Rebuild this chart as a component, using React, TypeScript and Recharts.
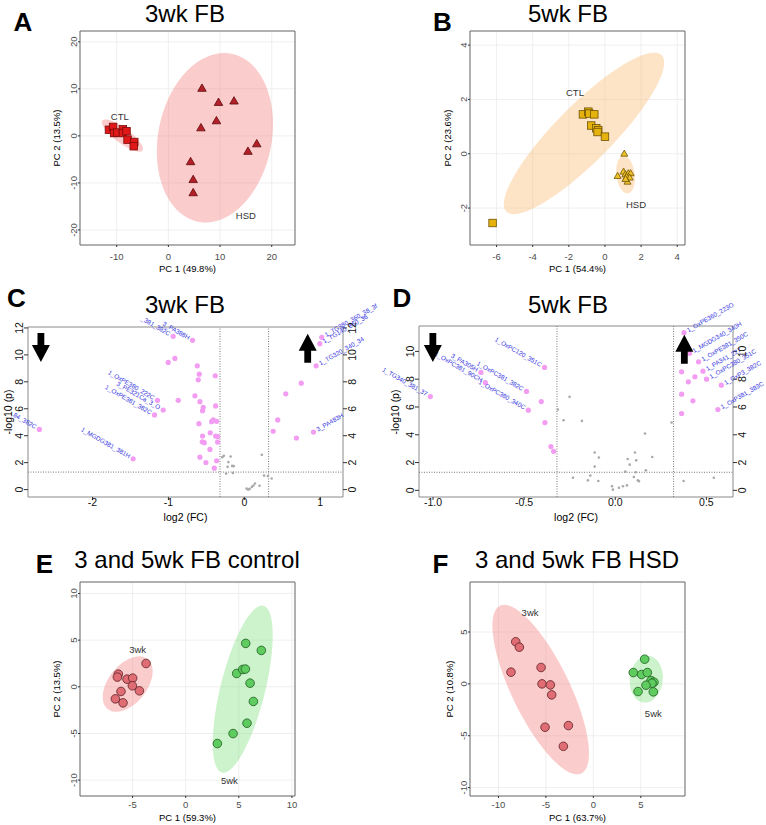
import React from 'react';
import { ScatterChart, Scatter, XAxis, YAxis, CartesianGrid, ReferenceArea, ReferenceLine } from 'recharts';

const FONT = 'Arial, "Liberation Sans", Helvetica, sans-serif';

type P = { x: number; y: number };
type Ell = { cx: number; cy: number; ux: number; uy: number; vx: number; vy: number };
type Lab = { x: number; y: number; t: string };

// ---- A: 3wk FB PCA ----
const aCtl: P[] = [
  { x: -11.5, y: 1.3 }, { x: -10.7, y: 1.9 }, { x: -10.5, y: 0.6 }, { x: -9.9, y: 0.7 }, { x: -8.8, y: 1.4 },
  { x: -8.8, y: 0.6 }, { x: -8.1, y: 1.0 }, { x: -7.9, y: -0.8 }, { x: -6.6, y: -1.3 }, { x: -6.7, y: -2.2 },
];
const aHsd: P[] = [
  { x: 6.5, y: 10.1 }, { x: 9.7, y: 7.1 }, { x: 12.7, y: 7.4 }, { x: 9.3, y: 3.2 }, { x: 6.3, y: 1.7 },
  { x: 17.1, y: -1.7 }, { x: 15.4, y: -3.3 }, { x: 4.3, y: -5.5 }, { x: 4.8, y: -9.3 }, { x: 4.8, y: -12.1 },
];
const aEllipses: Ell[] = [
  { cx: -8.9, cy: 0.07, ux: -3.87, uy: 3.19, vx: 0.87, vy: 1.28 },
  { cx: 9.0, cy: -0.4, ux: 3.23, uy: 17.87, vx: 10.77, vy: -2.34 },
];
const aLabels: Lab[] = [{ x: -9.4, y: 4.0, t: 'CTL' }, { x: 15.0, y: -17.0, t: 'HSD' }];
const aXTicks = [-10, 0, 10, 20];
const aYTicks = [-20, -10, 0, 10, 20];

// ---- B: 5wk FB PCA ----
const bCtl: P[] = [
  { x: -1.22, y: 1.45 }, { x: -0.92, y: 1.55 }, { x: -0.87, y: 1.48 }, { x: -0.59, y: 1.45 }, { x: -0.76, y: 1.04 },
  { x: -0.48, y: 0.94 }, { x: -0.37, y: 0.87 }, { x: -0.41, y: 0.8 }, { x: 0.0, y: 0.63 }, { x: -6.22, y: -2.55 },
];
const bHsd: P[] = [
  { x: 1.07, y: 0.0 }, { x: 0.7, y: -0.82 }, { x: 1.03, y: -0.66 }, { x: 1.13, y: -0.76 }, { x: 1.29, y: -0.72 },
  { x: 1.42, y: -0.72 }, { x: 1.2, y: -0.85 }, { x: 1.37, y: -0.88 }, { x: 1.25, y: -1.03 }, { x: 1.14, y: -0.93 },
];
const bEllipses: Ell[] = [
  { cx: -1.16, cy: 0.75, ux: 4.3, uy: 2.88, vx: 1.11, vy: -0.74 },
  { cx: 1.14, cy: -0.77, ux: -0.1, uy: 0.69, vx: 0.51, vy: 0 },
];
const bLabels: Lab[] = [{ x: -1.66, y: 2.25, t: 'CTL' }, { x: 1.72, y: -1.88, t: 'HSD' }];
const bXTicks = [-6, -4, -2, 0, 2, 4];
const bYTicks = [-2, 0, 2, 4];

// ---- C: 3wk FB volcano ----
const cSig: P[] = [
  { x: -2.7, y: 4.47 }, { x: -1.465, y: 2.29 }, { x: -0.937, y: 11.38 }, { x: -0.682, y: 11.08 }, { x: -1.003, y: 9.44 },
  { x: -0.915, y: 9.74 }, { x: -0.62, y: 9.19 }, { x: -0.594, y: 8.57 }, { x: -0.607, y: 8.15 }, { x: -0.383, y: 8.45 },
  { x: -0.651, y: 6.96 }, { x: -0.585, y: 6.53 }, { x: -0.871, y: 6.63 }, { x: -1.144, y: 6.63 }, { x: -0.541, y: 6.11 },
  { x: -0.55, y: 5.86 }, { x: -1.069, y: 5.91 }, { x: -1.183, y: 5.54 }, { x: -0.378, y: 6.21 }, { x: -0.598, y: 4.89 },
  { x: -0.431, y: 5.04 }, { x: -0.409, y: 5.17 }, { x: -0.365, y: 5.07 }, { x: -0.55, y: 3.98 }, { x: -0.449, y: 4.22 },
  { x: -0.378, y: 3.98 }, { x: -0.352, y: 3.93 }, { x: -0.554, y: 3.55 }, { x: -0.528, y: 3.48 }, { x: -0.352, y: 3.53 },
  { x: -0.453, y: 2.98 }, { x: -0.585, y: 2.41 }, { x: -0.506, y: 2.01 }, { x: -0.365, y: 2.14 }, { x: -0.396, y: 1.59 },
  { x: 0.38, y: 4.33 }, { x: 0.44, y: 5.17 }, { x: 0.546, y: 7.11 }, { x: 0.686, y: 3.83 }, { x: 0.75, y: 7.9 },
  { x: 0.911, y: 4.27 }, { x: 0.946, y: 9.19 }, { x: 0.995, y: 10.83 }, { x: 1.02, y: 11.3 },
];
const cNs: P[] = [
  { x: -0.27, y: 2.51 }, { x: -0.18, y: 2.46 }, { x: -0.29, y: 2.41 }, { x: -0.21, y: 2.04 }, { x: -0.22, y: 1.69 },
  { x: -0.16, y: 1.76 }, { x: -0.14, y: 1.74 }, { x: -0.24, y: 1.19 }, { x: -0.15, y: 1.24 }, { x: 0.23, y: 2.58 },
  { x: 0.26, y: 1.04 }, { x: 0.31, y: 1.0 }, { x: 0.36, y: 0.82 }, { x: 0.03, y: 0.07 }, { x: 0.05, y: 0.0 },
  { x: 0.07, y: 0.05 }, { x: 0.1, y: 0.2 }, { x: 0.12, y: 0.3 }, { x: 0.14, y: 0.45 }, { x: 0.2, y: 0.28 },
];
const cLeftLabels: Lab[] = [
  { x: -0.937, y: 11.38, t: '_381_382C' }, { x: -0.682, y: 11.08, t: '3_PA388H' },
  { x: -1.144, y: 6.63, t: '1_OxPE380_222C' }, { x: -1.069, y: 5.91, t: '3_PE321Ca_3_O' },
  { x: -1.183, y: 5.54, t: '1_OxPE381_382C' }, { x: -2.7, y: 4.47, t: '84_382C' },
  { x: -1.465, y: 2.29, t: '1_MGDG381_381H' },
];
const cRightLabels: Lab[] = [
  { x: 1.02, y: 11.3, t: '1_TG380_360_38_3f' }, { x: 0.995, y: 10.83, t: '1_TG140_360_36' },
  { x: 0.946, y: 9.19, t: '1_TG320_340_34' }, { x: 0.911, y: 4.27, t: '3_PA483H' },
];
const cDown: P[] = [{ x: -2.68, y: 10.55 }];
const cUp: P[] = [{ x: 0.835, y: 10.49 }];
const cXTicks = [-2, -1, 0, 1];
const cYTicks = [0, 2, 4, 6, 8, 10, 12];

// ---- D: 5wk FB volcano ----
const dSig: P[] = [
  { x: -1.015, y: 6.75 }, { x: -0.737, y: 8.49 }, { x: -0.713, y: 7.76 }, { x: -0.487, y: 7.12 }, { x: -0.477, y: 5.77 },
  { x: -0.388, y: 8.85 }, { x: -0.406, y: 6.39 }, { x: -0.386, y: 4.88 }, { x: -0.353, y: 3.15 }, { x: -0.338, y: 2.81 },
  { x: 0.377, y: 11.35 }, { x: 0.408, y: 9.86 }, { x: 0.457, y: 9.25 }, { x: 0.364, y: 8.53 }, { x: 0.481, y: 8.58 },
  { x: 0.437, y: 8.17 }, { x: 0.501, y: 8.0 }, { x: 0.401, y: 7.81 }, { x: 0.582, y: 7.57 }, { x: 0.364, y: 6.92 },
  { x: 0.426, y: 6.44 }, { x: 0.563, y: 5.82 }, { x: 0.364, y: 5.53 },
];
const dNs: P[] = [
  { x: -0.251, y: 6.73 }, { x: -0.315, y: 5.82 }, { x: -0.284, y: 5.05 }, { x: -0.183, y: 5.0 }, { x: 0.163, y: 4.09 },
  { x: 0.309, y: 4.88 }, { x: -0.113, y: 2.72 }, { x: -0.09, y: 2.36 }, { x: -0.113, y: 1.71 }, { x: -0.232, y: 0.91 },
  { x: -0.15, y: 0.72 }, { x: -0.137, y: 1.06 }, { x: -0.093, y: 0.67 }, { x: -0.018, y: 0.29 }, { x: -0.013, y: 0.05 },
  { x: 0.02, y: 0.19 }, { x: 0.042, y: 0.29 }, { x: 0.064, y: 0.36 }, { x: 0.055, y: 1.35 }, { x: 0.068, y: 2.26 },
  { x: 0.079, y: 1.85 }, { x: 0.102, y: 0.96 }, { x: 0.108, y: 2.72 }, { x: 0.115, y: 2.16 }, { x: 0.124, y: 0.72 },
  { x: 0.13, y: 0.65 }, { x: 0.168, y: 1.44 }, { x: 0.203, y: 2.4 }, { x: 0.375, y: 0.67 }, { x: 0.541, y: 0.91 },
  { x: 0.112, y: 1.3 },
];
const dLeftLabels: Lab[] = [
  { x: -1.015, y: 6.75, t: '1_TG340_381_37' }, { x: -0.737, y: 8.49, t: '3_PA305H' },
  { x: -0.713, y: 7.76, t: '1_OxPC381_90CH' }, { x: -0.487, y: 7.12, t: '1_OxPC381_382C' },
  { x: -0.477, y: 5.77, t: '1_OxPC380_340C' }, { x: -0.388, y: 8.85, t: '1_OxPC120_351C' },
];
const dRightLabels: Lab[] = [
  { x: 0.377, y: 11.35, t: '1_OxPE360_223O' }, { x: 0.408, y: 9.86, t: '1_MGDG340_340H' },
  { x: 0.457, y: 9.25, t: '1_OxPE381_350C' }, { x: 0.481, y: 8.58, t: '1_PA341_227' },
  { x: 0.501, y: 8.0, t: '1_OxPC380_351C' }, { x: 0.582, y: 7.57, t: '1_OxP3_382C' },
  { x: 0.563, y: 5.82, t: '1_OxP381_383C' },
];
const dDown: P[] = [{ x: -1.001, y: 10.28 }];
const dUp: P[] = [{ x: 0.379, y: 10.16 }];
const dXTicks = [-1, -0.5, 0, 0.5];
const dYTicks = [0, 2, 4, 6, 8, 10];

// ---- E: 3 and 5wk FB control PCA ----
const e3wk: P[] = [
  { x: -3.73, y: 2.5 }, { x: -6.34, y: 1.36 }, { x: -6.43, y: 1.04 }, { x: -5.52, y: 0.82 }, { x: -4.99, y: 0.93 },
  { x: -5.02, y: 0.11 }, { x: -6.09, y: -0.5 }, { x: -4.36, y: -0.43 }, { x: -6.62, y: -1.29 }, { x: -5.9, y: -1.72 },
];
const e5wk: P[] = [
  { x: 5.65, y: 4.65 }, { x: 7.12, y: 3.9 }, { x: 4.8, y: 1.43 }, { x: 5.37, y: 1.86 }, { x: 5.62, y: 1.9 },
  { x: 6.06, y: 0.39 }, { x: 6.37, y: -1.57 }, { x: 5.77, y: -3.9 }, { x: 4.46, y: -5.01 }, { x: 2.98, y: -6.08 },
];
const eEllipses: Ell[] = [
  { cx: -5.46, cy: 0.29, ux: 1.88, uy: 2.68, vx: 1.41, vy: -1.29 },
  { cx: 5.37, cy: -0.25, ux: 1.95, uy: 8.94, vx: 2.04, vy: -0.57 },
];
const eLabels: Lab[] = [{ x: -4.52, y: 4.04, t: '3wk' }, { x: 4.11, y: -10.05, t: '5wk' }];
const eXTicks = [-5, 0, 5, 10];
const eYTicks = [-10, -5, 0, 5, 10];

// ---- F: 3 and 5wk FB HSD PCA ----
const f3wk: P[] = [
  { x: -8.18, y: 4.06 }, { x: -7.8, y: 3.54 }, { x: -8.68, y: 1.13 }, { x: -5.51, y: 1.58 }, { x: -5.41, y: 0 },
  { x: -4.53, y: -0.1 }, { x: -4.39, y: -1.06 }, { x: -5.09, y: -4.18 }, { x: -2.63, y: -4.02 }, { x: -3.16, y: -6.02 },
];
const f5wk: P[] = [
  { x: 5.41, y: 2.38 }, { x: 4.21, y: 1.09 }, { x: 5.09, y: 0.9 }, { x: 5.69, y: 1.09 }, { x: 6.08, y: 0.32 },
  { x: 6.39, y: 0.16 }, { x: 6.18, y: 0.06 }, { x: 5.55, y: -0.13 }, { x: 4.71, y: -0.74 }, { x: 6.32, y: -0.77 },
];
const fEllipses: Ell[] = [
  { cx: -5.55, cy: -0.55, ux: -4.29, uy: 8.08, vx: 2.74, vy: 1.22 },
  { cx: 5.58, cy: 0.45, ux: 0.28, uy: 2.25, vx: 1.72, vy: -0.19 },
];
const fLabels: Lab[] = [{ x: -6.67, y: 6.89, t: '3wk' }, { x: 6.32, y: -2.9, t: '5wk' }];
const fXTicks = [-10, -5, 0, 5];
const fYTicks = [-10, -5, 0, 5];

// ellipse outline in data units: centre + two conjugate semi-axes
function ellipsePoints(e: Ell): P[] {
  const out: P[] = [];
  for (let i = 0; i <= 72; i++) {
    const t = (i / 72) * Math.PI * 2;
    out.push({ x: e.cx + e.ux * Math.cos(t) + e.vx * Math.sin(t), y: e.cy + e.uy * Math.cos(t) + e.vy * Math.sin(t) });
  }
  return out;
}

const pathOf = (pts: { x: number; y: number }[]) =>
  (pts || []).map((p, i) => `${i ? 'L' : 'M'}${p.x},${p.y}`).join('') + 'Z';

function ellipseSeries(e: Ell, fill: string, op: number, key: string) {
  return (
    <Scatter
      key={key}
      data={ellipsePoints(e)}
      isAnimationActive={false}
      lineType="joint"
      shape={() => <g />}
      line={(p: any) => <path d={pathOf(p.points)} fill={fill} fillOpacity={op} stroke="none" />}
    />
  );
}

const square = (fill: string, stroke: string, s: number) => (p: any) => (
  <rect x={p.cx - s / 2} y={p.cy - s / 2} width={s} height={s} fill={fill} stroke={stroke} strokeWidth={0.8} />
);
const triangle = (fill: string, stroke: string, s: number) => (p: any) => {
  const h = s * 0.87;
  return (
    <polygon
      points={`${p.cx},${p.cy - h * 0.6} ${p.cx + s / 2},${p.cy + h * 0.4} ${p.cx - s / 2},${p.cy + h * 0.4}`}
      fill={fill}
      stroke={stroke}
      strokeWidth={0.8}
    />
  );
};
const circle = (fill: string, stroke: string, r: number) => (p: any) => (
  <circle cx={p.cx} cy={p.cy} r={r} fill={fill} stroke={stroke} strokeWidth={0.8} />
);
const pcaLabel = (p: any) => (
  <text x={p.cx} y={p.cy} dy={3.4} textAnchor="middle" fontSize={9.5} fill="#333" fontFamily={FONT}>
    {p.payload.t}
  </text>
);
const leftLab = (p: any) => (
  <text x={p.cx} y={p.cy} dx={-4} dy={2} transform={`rotate(30 ${p.cx} ${p.cy})`} textAnchor="end" fontSize={6.3} fill="#3434e0" fontFamily={FONT}>
    {p.payload.t}
  </text>
);
const rightLab = (p: any) => (
  <text x={p.cx} y={p.cy} dx={4} dy={2} transform={`rotate(-30 ${p.cx} ${p.cy})`} textAnchor="start" fontSize={6.3} fill="#3434e0" fontFamily={FONT}>
    {p.payload.t}
  </text>
);
const arrow = (dir: number) => (p: any) => {
  const pts = [[-3.4, -14.5], [3.4, -14.5], [3.4, -2.5], [9, -2.5], [0, 14.5], [-9, -2.5], [-3.4, -2.5]]
    .map(([a, b]) => `${p.cx + a},${p.cy + b * dir}`)
    .join(' ');
  return <polygon points={pts} fill="#000" />;
};

const fmtInt = (v: number) => String(v);
const fmt1 = (v: number) => v.toFixed(1);

const xTick = (dy: number, size: number, color: string, fmt = fmtInt) => (p: any) => (
  <text x={p.x} y={p.y} dy={dy} textAnchor="middle" fontSize={size} fill={color} fontFamily={FONT}>
    {fmt(p.payload.value)}
  </text>
);
const yTick = (dy: number, size: number, color: string) => (p: any) => (
  <text x={p.x} y={p.y} dy={dy} transform={`rotate(-90 ${p.x} ${p.y})`} textAnchor="middle" fontSize={size} fill={color} fontFamily={FONT}>
    {p.payload.value}
  </text>
);

type Frame = { left: number; top: number; width: number; height: number; plot: number[] };

function PcaChart({ f, xd, yd, xt, yt, xdy, children }: any) {
  const XH = 20;
  const YW = 24;
  const margin = {
    top: f.plot[1] - f.top,
    left: f.plot[0] - f.left - YW,
    right: f.left + f.width - f.plot[2],
    bottom: f.top + f.height - f.plot[3] - XH,
  };
  return (
    <div style={{ position: 'absolute', left: f.left, top: f.top }}>
      <ScatterChart width={f.width} height={f.height} margin={margin}>
        <CartesianGrid stroke="#ebebeb" strokeWidth={0.8} />
        <XAxis type="number" dataKey="x" domain={xd} ticks={xt} interval={0} height={XH} axisLine={false}
          tickSize={2} tickMargin={1} tickLine={{ stroke: '#333' }} tick={xTick(xdy, 9.5, '#4d4d4d')} />
        <YAxis type="number" dataKey="y" domain={yd} ticks={yt} interval={0} width={YW} axisLine={false}
          tickSize={2} tickMargin={1} tickLine={{ stroke: '#333' }} tick={yTick(0, 9.5, '#4d4d4d')} />
        {children}
        <ReferenceArea x1={xd[0]} x2={xd[1]} y1={yd[0]} y2={yd[1]} fill="none" stroke="#6b6b6b" strokeWidth={1} ifOverflow="visible" />
      </ScatterChart>
    </div>
  );
}

function VolcanoChart({ f, xd, yd, xt, yt, xfmt, xdy, children }: any) {
  const XH = 14;
  const YW = 20;
  const margin = {
    top: f.plot[1] - f.top,
    left: f.plot[0] - f.left - YW,
    right: f.left + f.width - f.plot[2] - YW,
    bottom: f.top + f.height - f.plot[3] - XH,
  };
  const tl = { stroke: '#333' };
  return (
    <div style={{ position: 'absolute', left: f.left, top: f.top }}>
      <ScatterChart width={f.width} height={f.height} margin={margin}>
        <XAxis type="number" dataKey="x" domain={xd} ticks={xt} interval={0} height={XH} axisLine={false}
          tickSize={3} tickMargin={1} tickLine={tl} tick={xTick(xdy, 10.5, '#111', xfmt)} />
        <YAxis type="number" dataKey="y" domain={yd} ticks={yt} interval={0} width={YW} axisLine={false}
          tickSize={4} tickMargin={1} tickLine={tl} tick={yTick(0, 10.5, '#111')} />
        <YAxis yAxisId="r" orientation="right" type="number" dataKey="y" domain={yd} ticks={yt} interval={0} width={YW}
          axisLine={false} tickSize={4} tickMargin={2} tickLine={tl} tick={yTick(7.5, 10.5, '#111')} />
        <ReferenceArea x1={xd[0]} x2={xd[1]} y1={yd[0]} y2={yd[1]} fill="none" stroke="#8a8a8a" strokeWidth={1} ifOverflow="visible" />
        <ReferenceLine x={-0.32} stroke="#777" strokeDasharray="1 1.5" />
        <ReferenceLine x={0.32} stroke="#777" strokeDasharray="1 1.5" />
        <ReferenceLine y={1.3} stroke="#777" strokeDasharray="1 1.5" />
        {children}
      </ScatterChart>
    </div>
  );
}

function T({ x, y, s, b, r, children }: any) {
  return (
    <div
      style={{
        position: 'absolute',
        left: x,
        top: y,
        transform: `translate(-50%, -50%)${r ? ' rotate(-90deg)' : ''}`,
        fontSize: s,
        fontWeight: b ? 700 : 400,
        lineHeight: 1,
        whiteSpace: 'nowrap',
        fontFamily: FONT,
        color: '#000',
      }}
    >
      {children}
    </div>
  );
}

const PINK = '#f47f7f';
const GREEN = '#7fe07f';
const PEACH = '#fbbf77';

const frA: Frame = { left: 20, top: 20, width: 340, height: 250, plot: [80, 31, 295, 245] };
const frB: Frame = { left: 410, top: 20, width: 340, height: 250, plot: [470, 31, 685, 245] };
const frC: Frame = { left: 0, top: 285, width: 380, height: 235, plot: [28, 327, 343, 497] };
const frD: Frame = { left: 380, top: 285, width: 386, height: 235, plot: [419, 326, 733, 497] };
const frE: Frame = { left: 20, top: 575, width: 340, height: 245, plot: [80, 582, 295, 796] };
const frF: Frame = { left: 410, top: 575, width: 340, height: 245, plot: [470, 582, 685, 796] };

export default function App() {
  return (
    <div style={{ position: 'absolute', left: 0, top: 0, width: 766, height: 825, background: '#fff', overflow: 'hidden' }}>
      <PcaChart f={frA} xd={[-17.1, 24.5]} yd={[-23.2, 22.3]} xt={aXTicks} yt={aYTicks} xdy={12.3}>
        {aEllipses.map((e, i) => ellipseSeries(e, PINK, 0.4, `ae${i}`))}
        <Scatter data={aCtl} shape={square('#e01818', '#7a0c0c', 7.5)} isAnimationActive={false} />
        <Scatter data={aHsd} shape={triangle('#b3202a', '#5e0a0a', 8.5)} isAnimationActive={false} />
        <Scatter data={aLabels} shape={pcaLabel} isAnimationActive={false} />
      </PcaChart>

      <PcaChart f={frB} xd={[-7.47, 4.43]} yd={[-3.36, 4.52]} xt={bXTicks} yt={bYTicks} xdy={12.3}>
        {bEllipses.map((e, i) => ellipseSeries(e, PEACH, 0.42, `be${i}`))}
        <Scatter data={bCtl} shape={square('#e6b30e', '#6e5200', 7.5)} isAnimationActive={false} />
        <Scatter data={bHsd} shape={triangle('#efc22a', '#6e5200', 7)} isAnimationActive={false} />
        <Scatter data={bLabels} shape={pcaLabel} isAnimationActive={false} />
      </PcaChart>

      <VolcanoChart f={frC} xd={[-2.85, 1.3]} yd={[-0.55, 12.07]} xt={cXTicks} yt={cYTicks} xdy={4.8}>
        <Scatter data={cNs} shape={circle('#a9a9a9', 'none', 1.3)} isAnimationActive={false} />
        <Scatter data={cSig} shape={circle('#f29cf2', 'none', 2.6)} isAnimationActive={false} />
        <Scatter data={cLeftLabels} shape={leftLab} isAnimationActive={false} />
        <Scatter data={cRightLabels} shape={rightLab} isAnimationActive={false} />
        <Scatter yAxisId="r" data={cDown} shape={arrow(1)} isAnimationActive={false} />
        <Scatter yAxisId="r" data={cUp} shape={arrow(-1)} isAnimationActive={false} />
      </VolcanoChart>

      <VolcanoChart f={frD} xd={[-1.077, 0.646]} yd={[-0.48, 11.83]} xt={dXTicks} yt={dYTicks} xfmt={fmt1} xdy={4.8}>
        <Scatter data={dNs} shape={circle('#a9a9a9', 'none', 1.3)} isAnimationActive={false} />
        <Scatter data={dSig} shape={circle('#f29cf2', 'none', 2.6)} isAnimationActive={false} />
        <Scatter data={dLeftLabels} shape={leftLab} isAnimationActive={false} />
        <Scatter data={dRightLabels} shape={rightLab} isAnimationActive={false} />
        <Scatter yAxisId="r" data={dDown} shape={arrow(1)} isAnimationActive={false} />
        <Scatter yAxisId="r" data={dUp} shape={arrow(-1)} isAnimationActive={false} />
      </VolcanoChart>

      <PcaChart f={frE} xd={[-9.95, 10.29]} yd={[-11.7, 11.23]} xt={eXTicks} yt={eYTicks} xdy={8.8}>
        {ellipseSeries(eEllipses[0], PINK, 0.4, 'ee0')}
        {ellipseSeries(eEllipses[1], GREEN, 0.4, 'ee1')}
        <Scatter data={e3wk} shape={circle('#e06c74', '#5b2226', 4.3)} isAnimationActive={false} />
        <Scatter data={e5wk} shape={circle('#5fcc5f', '#1e5c1e', 4.3)} isAnimationActive={false} />
        <Scatter data={eLabels} shape={pcaLabel} isAnimationActive={false} />
      </PcaChart>

      <PcaChart f={frF} xd={[-13.0, 9.66]} yd={[-10.81, 9.82]} xt={fXTicks} yt={fYTicks} xdy={8.8}>
        {ellipseSeries(fEllipses[0], PINK, 0.4, 'fe0')}
        {ellipseSeries(fEllipses[1], GREEN, 0.4, 'fe1')}
        <Scatter data={f3wk} shape={circle('#e06c74', '#5b2226', 4.3)} isAnimationActive={false} />
        <Scatter data={f5wk} shape={circle('#5fcc5f', '#1e5c1e', 4.3)} isAnimationActive={false} />
        <Scatter data={fLabels} shape={pcaLabel} isAnimationActive={false} />
      </PcaChart>

      {/* panel letters and titles */}
      <T x={23} y={21.7} s={26} b>A</T>
      <T x={185} y={13.5} s={24}>3wk FB</T>
      <T x={442.5} y={21.7} s={26} b>B</T>
      <T x={568} y={13.5} s={24}>5wk FB</T>
      <T x={16.5} y={297.5} s={26} b>C</T>
      <T x={185} y={305} s={24}>3wk FB</T>
      <T x={402} y={297.5} s={26} b>D</T>
      <T x={568} y={305} s={24}>5wk FB</T>
      <T x={44.5} y={564} s={26} b>E</T>
      <T x={187} y={560} s={24}>3 and 5wk FB control</T>
      <T x={440.5} y={564} s={26} b>F</T>
      <T x={577} y={560} s={24}>3 and 5wk FB HSD</T>

      {/* axis titles */}
      <T x={187.5} y={269} s={9.5}>PC 1 (49.8%)</T>
      <T x={57} y={138} s={9.5} r>PC 2 (13.5%)</T>
      <T x={577.5} y={269} s={9.5}>PC 1 (54.4%)</T>
      <T x={448} y={138} s={9.5} r>PC 2 (23.6%)</T>
      <T x={185.5} y={517} s={10.5}>log2 (FC)</T>
      <T x={7.5} y={412} s={10.5} r>-log10 (p)</T>
      <T x={576} y={517} s={10.5}>log2 (FC)</T>
      <T x={395} y={412} s={10.5} r>-log10 (p)</T>
      <T x={187.5} y={818} s={9.5}>PC 1 (59.3%)</T>
      <T x={57} y={689} s={9.5} r>PC 2 (13.5%)</T>
      <T x={577.5} y={818} s={9.5}>PC 1 (63.7%)</T>
      <T x={450} y={689} s={9.5} r>PC 2 (10.8%)</T>
    </div>
  );
}
